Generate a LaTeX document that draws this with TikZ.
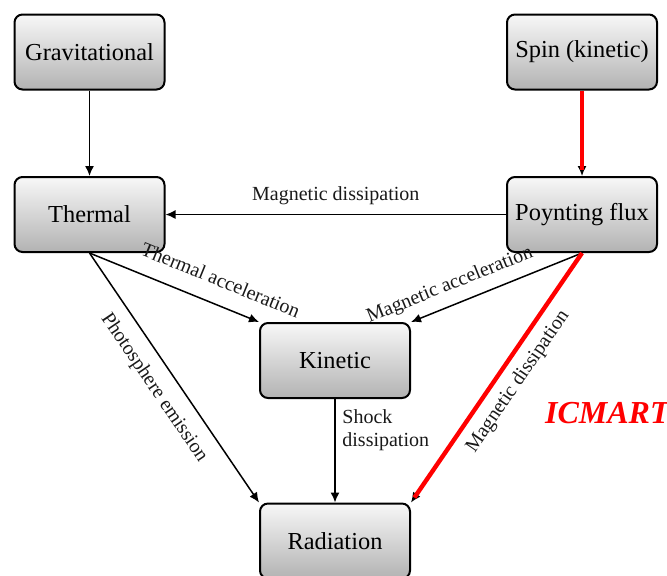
\documentclass[tikz,border=0pt]{standalone}
\usepackage{fontspec}
\setmainfont{Liberation Serif}
\usetikzlibrary{arrows.meta}
\begin{document}
\begin{tikzpicture}[x=0.5pt,y=-0.5pt,
  box/.style={draw,line width=1pt,rounded corners=4pt,top color=gray!6,bottom color=gray!60,
    minimum width=75pt,minimum height=37.5pt,font=\fontsize{12.2}{14}\selectfont},
  flow/.style={-{Latex[length=5pt,width=4.5pt]},line width=0.75pt},
  hot/.style={red,line width=2.2pt,shorten >=3pt},
  lbl/.style={font=\fontsize{10}{11.5}\selectfont,text=black!90}]
\useasboundingbox (0,0) rectangle (667,575);
\node[box] (grav) at (89.5,52) {Gravitational};
\node[box] (spin) at (582,52) {Spin (kinetic)};
\node[box] (therm) at (89.5,214.5) {Thermal};
\node[box] (poynt) at (582,214.5) {Poynting flux};
\node[box] (kin) at (335,360.5) {Kinetic};
\node[box] (rad) at (335,541) {Radiation};
\draw[flow] (grav) -- (therm);
\draw[flow] (spin) -- (poynt);
\draw[hot] (spin) -- (poynt);
\draw[flow] (poynt) -- node[lbl,above=1pt]{Magnetic dissipation} (therm);
\draw[flow] (therm.south) -- node[lbl,above=5pt,sloped,pos=0.72]{Thermal acceleration} (kin.north west);
\draw[flow] (poynt.south) -- node[lbl,above=1.5pt,sloped,pos=0.73]{Magnetic acceleration} (kin.north east);
\draw[flow] (therm.south) -- node[lbl,below=3pt,sloped,pos=0.49]{Photosphere emission} (rad.north west);
\draw[flow] (kin) -- node[lbl,right,align=left,pos=0.3]{Shock\\dissipation} (rad);
\draw[flow] (poynt.south) -- (rad.north east);
\draw[hot] (poynt.south) -- node[lbl,below=1pt,sloped,pos=0.47]{Magnetic dissipation} (rad.north east);
\node[red,font=\fontsize{16}{18}\selectfont\bfseries\itshape,anchor=base west] (icm) at (538,423) {ICMART};
\end{tikzpicture}
\end{document}
